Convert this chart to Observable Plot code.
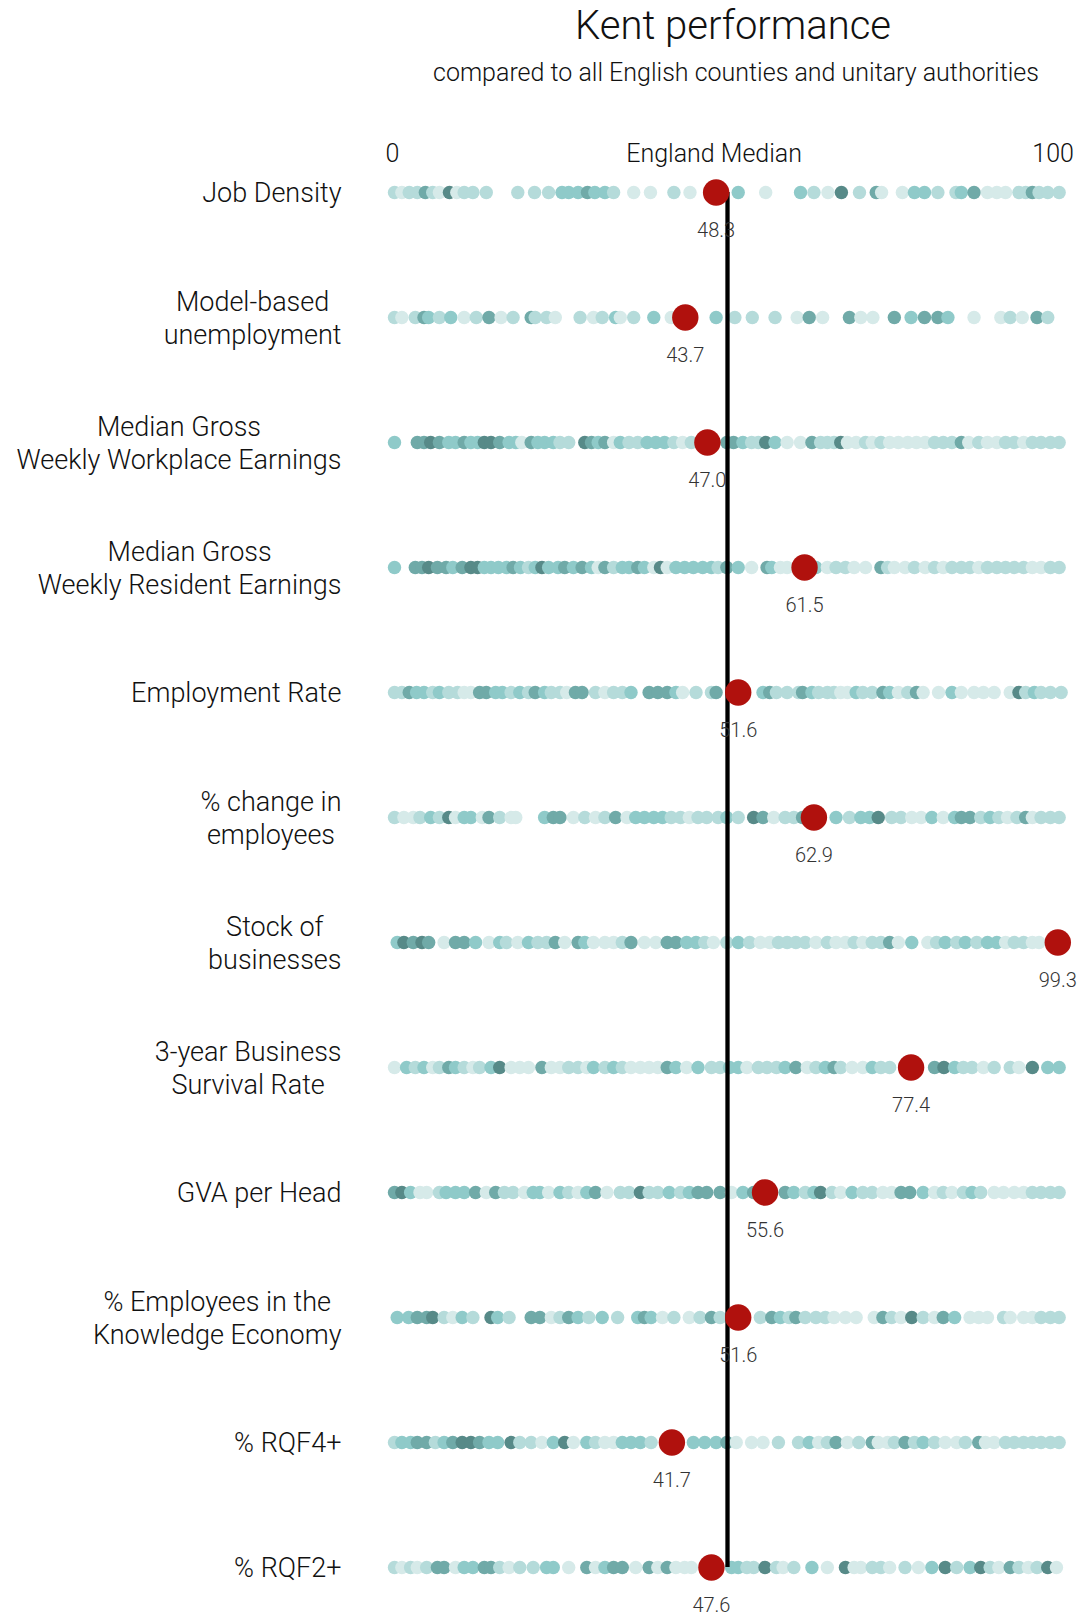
<!DOCTYPE html>
<html>
<head>
<meta charset="utf-8">
<script src="https://cdn.jsdelivr.net/npm/d3@7"></script>
<script src="https://cdn.jsdelivr.net/npm/@observablehq/plot@0.6"></script>
<style>
  html, body { margin: 0; padding: 0; background: #fff; }
  body { width: 1084px; height: 1619px; position: relative; font-family: Roboto, "Liberation Sans", sans-serif; }
  #header { position: relative; width: 1084px; height: 100px; }
  #title { position: absolute; left: 733px; top: 0px; transform: translateX(-50%); font-size: 40px; font-weight: 300; color: #111; white-space: nowrap; line-height: 52px; }
  #subtitle { position: absolute; left: 736px; top: 58px; transform: translateX(-50%); font-size: 25px; font-weight: 300; color: #111; white-space: nowrap; line-height: 30px; }
  #chart svg { display: block; }
</style>
</head>
<body>
<div id="header">
  <div id="title">Kent performance</div>
  <div id="subtitle">compared to all English counties and unitary authorities</div>
</div>
<div id="chart"></div>
<script>
const indicators = [
  "Job Density",
  "Model-based\nunemployment",
  "Median Gross\nWeekly Workplace Earnings",
  "Median Gross\nWeekly Resident Earnings",
  "Employment Rate",
  "% change in\nemployees",
  "Stock of\nbusinesses",
  "3-year Business\nSurvival Rate",
  "GVA per Head",
  "% Employees in the\nKnowledge Economy",
  "% RQF4+",
  "% RQF2+"
];

const kentValues = [48.3, 43.7, 47.0, 61.5, 51.6, 62.9, 99.3, 77.4, 55.6, 51.6, 41.7, 47.6];

const englandMedian = 50;
const tickLabels = ["0", "England Median", "100"];
const tickPositions = [0, 48, 98.6];

// percentile positions of all authorities, per indicator
const jobDensity = [0.3,1.4,2.5,3.7,4.9,6.0,7.0,8.5,9.6,10.7,12.0,14.0,18.7,21.2,23.3,25.3,26.3,27.7,29.1,30.2,31.7,33.0,36.0,38.5,42.0,44.4,51.6,55.7,60.9,62.9,65.0,67.0,69.7,72.2,73.0,76.1,77.9,79.4,81.4,84.1,84.9,86.8,88.8,90.2,91.5,93.5,94.5,95.5,96.5,97.8,99.5];
const jobDensityShade = [1,0,1,1,3,1,0,4,0,1,1,1, 1,1,1,2,2,2,3,2,2,1, 0,0,1,0, 2,0, 2,1,0,4,1,3,0,0,2,2,1,1,2,3,0,0,0,1,1,3,1,1,1];

const unemployment = [0.3,1.4,3.4,4.7,5.4,7.0,8.7,10.7,12.5,14.4,16.2,18.0,20.7,21.3,23.0,24.3,28.0,30.0,31.3,33.3,34.0,36.0,39.0,41.6,48.3,51.1,53.7,57.1,60.4,62.2,64.2,68.2,69.9,71.7,74.9,77.4,79.4,81.4,82.9,86.8,90.8,92.2,94.0,96.2,97.8];
const unemploymentShade = [1,0,1,3,2,1,2,0,1,3,0,1,3,1,1,0, 1,0,1,2,0,1, 2,0, 2,1,1,1,0,3,0, 3,0,0, 3,2,3,3,2, 0, 0,1,0,3,1];

const workplaceEarnings = [0.3,3.7,4.7,5.7,7.0,8.4,9.4,10.7,11.7,12.7,13.7,14.7,16.0,17.4,18.4,19.3,20.7,21.7,22.7,24.0,25.0,26.3,28.7,29.7,30.7,31.7,33.0,34.0,35.3,36.6,38.0,39.3,40.6,42.0,43.3,44.6,49.9,50.9,52.3,53.6,54.6,55.7,57.1,58.9,60.9,62.6,63.9,64.9,65.9,66.9,67.9,69.2,70.6,71.6,72.9,74.2,75.5,76.9,78.2,79.5,80.9,82.2,83.5,84.9,86.0,87.5,88.8,90.2,91.5,92.8,94.2,95.5,96.8,98.2,99.5];
const workplaceEarningsShade = [2, 3,3,4,3,2,2,3,2,2,4,4,3,2,2,0,3,2,2,2,1,1, 4,3,2,3,0,2,1,1,2,2,2,1,0,1, 3,3,2,1,1,4,2,0,0,3,1,1,1,4,0,0,1,0,1,0,0,0,0,0,1,1,1,3,0,1,0,0,1,1,0,1,1,1,1];

const residentEarnings = [0.3,3.4,4.4,5.4,6.7,8.0,9.0,10.4,11.7,12.7,13.7,14.7,15.8,17.0,18.0,19.1,20.3,21.3,22.3,23.3,24.7,25.7,27.0,28.3,29.7,30.7,31.7,33.0,34.3,35.3,36.6,37.6,39.0,40.0,41.0,42.3,43.6,44.9,46.3,47.6,48.6,49.9,51.6,53.6,55.9,56.6,57.9,58.9,63.2,64.9,66.2,67.6,68.9,70.6,72.9,73.9,74.9,76.5,77.9,79.5,80.9,82.2,83.5,84.9,86.2,87.5,88.8,90.2,91.5,92.8,94.2,95.5,96.8,98.2,99.5];
const residentEarningsShade = [2, 3,3,4,3,3,2,3,4,4,2, 2,2,2,3,2,1,2,4,2,2, 3,2,3,2,0,3,1,2,2,3, 2,0,4,0,2,2,2,2,2,1, 3,2,0,3,2,0,0, 2,0,1,1,0,0,3,1,0,0, 1,0,1,0,1,1,1,0,1,1, 1,1,1,0,0,1,1];

const employmentRate = [0.3,1.4,2.5,3.6,4.7,6.0,7.0,8.4,9.7,10.7,11.7,13.0,14.0,15.4,16.4,17.7,19.0,20.3,21.3,22.7,23.7,25.0,26.0,27.3,28.3,30.3,31.7,33.0,34.3,35.6,38.3,39.6,41.0,42.3,43.3,45.3,47.6,48.3,55.3,56.3,57.3,58.9,60.6,61.2,62.6,63.6,64.9,65.9,66.9,67.9,69.2,70.2,71.6,73.2,74.2,75.5,76.9,78.2,79.2,81.5,83.5,84.9,86.8,88.2,89.8,92.2,93.5,94.5,95.8,96.8,98.2,99.8];
const employmentRateShade = [1,1,3,2,2,1,2,1,1,0, 0,3,3,2,2,1,2,1,3,2, 1,1,0,3,3,1,0,1,1,2, 3,3,3,2,0,1,1,3, 2,3,1,1,1,3,2,1,1,1, 0,0,2,1,1,3,2,0,1,3, 0,0,2,0,0,0,0,0,4,1, 2,1,1,1];

const employeesChange = [0.3,1.7,3.1,4.1,5.7,7.0,8.4,9.4,10.7,11.7,13.4,14.4,16.0,17.7,18.4,22.7,24.0,25.0,27.0,28.7,30.3,31.7,33.3,35.0,36.3,37.6,39.0,40.3,41.6,43.0,44.3,45.6,46.9,48.6,49.9,51.6,53.9,55.3,56.9,58.6,59.9,61.2,66.2,68.2,69.9,71.2,72.5,74.5,75.9,77.5,78.9,80.5,82.2,83.9,84.9,86.2,87.8,89.2,90.5,91.8,93.2,94.5,95.5,96.8,98.2,99.5];
const employeesChangeShade = [1,0,0,1,2,1,4,0,2,2,0,3,1,0,0, 2,3,3,0,1,0,1,3,0,2,2,2,2,1,1,0,1,1,1,2,1, 4,3,0,1,1,3, 2,1,2,2,4,1,1,0,0,2,0,2,3,3,1,2,1,0,1,3,0,1,1,1];

const businessStock = [0.7,1.7,3.1,4.4,5.4,7.7,9.4,10.7,12.4,14.4,16.0,17.0,18.7,20.3,21.7,23.0,24.3,25.7,27.7,28.7,30.0,31.7,33.0,34.3,35.6,37.6,39.3,41.0,42.3,43.9,45.3,46.6,47.9,49.9,51.6,53.3,54.9,56.3,57.6,58.9,60.2,61.6,63.2,64.9,66.2,67.6,68.9,70.2,71.6,72.9,74.2,75.5,77.5,79.9,81.2,82.5,84.2,85.5,87.2,88.8,90.2,91.5,92.8,94.2,95.5,96.5];
const businessStockShade = [2,4,3,4,3,0,3,3,2,0, 2,1,0,2,1,1,3,0,3,2, 0,0,0,1,3,0,0,3,3,2, 2,1,0,1,2,1,0,0,1,1, 1,1,0,1,0,0,1,0,1,1, 3,0,2,0,1,2,1,2,1,2, 2,0,1,1,0,0];

const survivalRate = [0.3,2.1,3.4,4.7,6.0,7.0,8.4,9.4,10.7,12.0,13.0,14.7,16.0,17.7,19.0,20.3,22.3,23.7,25.0,26.3,27.7,29.0,30.0,31.7,33.0,34.3,35.6,37.0,38.3,39.6,41.0,42.3,43.9,45.6,47.6,48.9,50.3,51.6,52.9,54.6,55.9,57.3,58.6,60.2,61.9,63.2,64.6,65.9,66.9,68.6,70.2,71.6,72.9,74.2,80.9,82.3,83.9,85.2,86.5,88.2,89.8,92.2,93.5,95.5,97.8,99.5];
const survivalRateShade = [0,2,1,2,0,1,3,2,1,0, 1,2,4,0,0,0,3,0,0,1, 1,0,2,1,2,1,0,0,0,0, 3,2,0,2,1,1,2,2,0,1, 1,1,2,3,0,1,2,3,1,0, 0,2,1,1, 3,4,2,1,1,0,1,1,0,4, 2,2];

const gvaPerHead = [0.3,1.4,2.7,4.1,5.1,7.0,8.0,9.4,10.7,12.4,14.0,15.4,16.7,18.0,19.7,21.0,22.0,23.3,25.0,26.3,27.7,29.0,30.3,32.0,34.0,35.3,37.0,38.3,39.6,41.3,43.0,44.3,45.6,46.9,48.9,50.6,52.3,53.9,58.6,59.9,61.6,62.9,63.9,65.6,66.9,68.6,70.2,71.6,73.2,74.5,75.9,77.2,79.2,80.9,82.2,83.5,85.2,86.5,87.8,89.8,91.2,92.8,94.2,95.5,96.8,98.2,99.5];
const gvaPerHeadShade = [3,4,2,0,0,1,2,2,2,3, 0,3,1,1,0,2,2,0,2,1, 0,2,3,0,1,1,4,1,1,2, 1,2,3,3,3,0,2,3, 3,2,1,2,4,1,0,2,1,1, 0,0,3,3,2,0,1,0,1,2, 1,0,0,0,0,1,1,1,1];

const knowledgeEconomy = [0.7,2.4,3.7,5.1,6.0,7.7,9.0,10.4,12.0,14.7,15.7,17.4,20.7,22.0,23.7,25.0,26.3,27.7,29.3,31.3,33.6,36.6,37.6,38.6,40.3,42.0,44.3,45.9,47.6,48.9,54.9,56.6,57.9,59.2,60.2,61.6,63.2,64.6,65.9,67.6,69.2,71.9,73.2,74.5,75.9,77.5,79.2,80.9,82.2,83.9,86.2,87.5,88.8,91.2,92.2,94.2,95.5,96.8,98.2,99.5];
const knowledgeEconomyShade = [2,2,3,3,4,1,0,2,1,4,2,1, 3,3,0,1,3,2,1,2,1, 2,3,2,0,1,0,1,3,1, 1,3,2,1,3,1,1,1,0,0, 0,0,3,1,0,4,1,0,3,2, 0,0,0,1,0,0,0,1,1,1];

const rqf4 = [0.3,1.4,2.7,3.7,5.1,6.4,7.7,9.0,10.4,11.7,13.0,14.4,15.7,17.7,19.0,20.7,22.3,24.0,25.7,27.0,29.0,30.3,31.7,33.0,34.3,35.6,37.0,38.6,44.9,46.6,48.3,49.9,51.3,53.6,55.3,57.6,60.6,62.2,63.6,64.9,66.2,67.9,69.6,71.6,72.5,73.9,74.9,76.5,77.9,79.2,80.9,82.5,84.2,85.5,87.5,88.5,89.8,91.5,92.8,94.2,95.5,96.8,98.2,99.5];
const rqf4Shade = [1,2,2,3,3,1,2,3,4,4, 3,2,2,4,1,1,0,2,4,0, 2,1,0,0,2,2,2,1, 2,2,2,3,0,0,0,1,1,2, 0,1,3,0,1,3,0,0,1,3, 1,2,1,0,0,1,3,0,0,1, 1,1,1,1,1,1];

const rqf2 = [0.3,1.4,2.7,3.7,5.1,6.7,7.7,9.4,10.7,12.0,13.7,14.7,16.0,17.4,19.0,21.0,23.0,24.0,26.3,29.0,30.3,31.7,33.0,34.3,36.3,38.3,39.6,41.0,42.3,43.6,44.6,50.6,51.6,52.9,53.9,55.6,57.3,58.3,59.9,62.6,64.9,67.6,68.9,69.9,71.6,72.9,74.2,76.5,78.5,80.5,82.5,84.2,86.2,87.8,89.2,90.5,92.2,93.5,94.9,96.2,97.8,99.1];
const rqf2Shade = [1,0,1,0,1,3,3,0,2,2, 3,3,1,0,1,1,2,2,0, 3,0,2,3,3,0,3,0,3,0,0,0, 2,2,1,1,4,1,0,1,2,0, 4,0,0,1,1,0,1,0,2,4, 1,2,4,1,0,3,1,0,1,4, 0];

const allPositions = [jobDensity, unemployment, workplaceEarnings, residentEarnings, employmentRate, employeesChange, businessStock, survivalRate, gvaPerHead, knowledgeEconomy, rqf4, rqf2];
const allShades = [jobDensityShade, unemploymentShade, workplaceEarningsShade, residentEarningsShade, employmentRateShade, employeesChangeShade, businessStockShade, survivalRateShade, gvaPerHeadShade, knowledgeEconomyShade, rqf4Shade, rqf2Shade];

const shadeLevels = [0, 1, 2, 3, 4];
const shadeColors = ["#d6eae9", "#b5dbda", "#8fcac9", "#70aaa8", "#578a88"];

// ---- build tables ----
const dots = [];
allPositions.forEach((arr, i) => {
  arr.forEach((x, j) => dots.push({indicator: indicators[i], x, shade: allShades[i][j] ?? 1}));
});
const kent = indicators.map((indicator, i) => ({indicator, value: kentValues[i]}));
const ticks = tickLabels.map((label, i) => ({label, x: tickPositions[i]}));

// measure labels so the block is right-aligned while its lines are centred
const labelSize = 27;
const ctx = document.createElement("canvas").getContext("2d");
ctx.font = `300 ${labelSize}px Roboto`;
const labelRight = 341;
const labelMarks = indicators.map(lbl => {
  const w = Math.max(...lbl.split("\n").map(s => ctx.measureText(s).width));
  return Plot.text([lbl], {
    y: d => d, text: d => d, frameAnchor: "left", dx: labelRight - w / 2, dy: -1,
    textAnchor: "middle", lineAnchor: "middle", lineHeight: 1.23,
    fontSize: labelSize, fontWeight: 300, fill: "#111"
  });
});

const chart = Plot.plot({
  width: 1084,
  height: 1519,
  marginTop: 0, marginBottom: 0, marginLeft: 0, marginRight: 0,
  style: {fontFamily: "Roboto, 'Liberation Sans', sans-serif", background: "white"},
  x: {domain: [0, 100], range: [392, 1062], axis: null},
  y: {type: "point", domain: indicators, range: [89, 1469], padding: 0, axis: null},
  color: {type: "ordinal", domain: shadeLevels, range: shadeColors},
  marks: [
    Plot.dot(dots, {x: "x", y: "indicator", r: 6.7, fill: "shade", stroke: "none"}),
    Plot.ruleX([englandMedian], {x: d => d, y1: () => indicators[0], y2: () => indicators[indicators.length - 1], stroke: "black", strokeWidth: 4.3}),
    Plot.dot(kent, {x: "value", y: "indicator", r: 13.2, fill: "#b0110d", stroke: "none"}),
    Plot.text(kent, {x: "value", y: "indicator", text: d => d.value.toFixed(1), dy: 38, fontSize: 20, fontWeight: 300, fill: "#333"}),
    Plot.text(ticks, {x: "x", text: "label", frameAnchor: "top", dy: 53, fontSize: 25, fontWeight: 300, fill: "#111", lineAnchor: "middle"}),
    ...labelMarks
  ]
});
document.getElementById("chart").appendChild(chart);
</script>
</body>
</html>
